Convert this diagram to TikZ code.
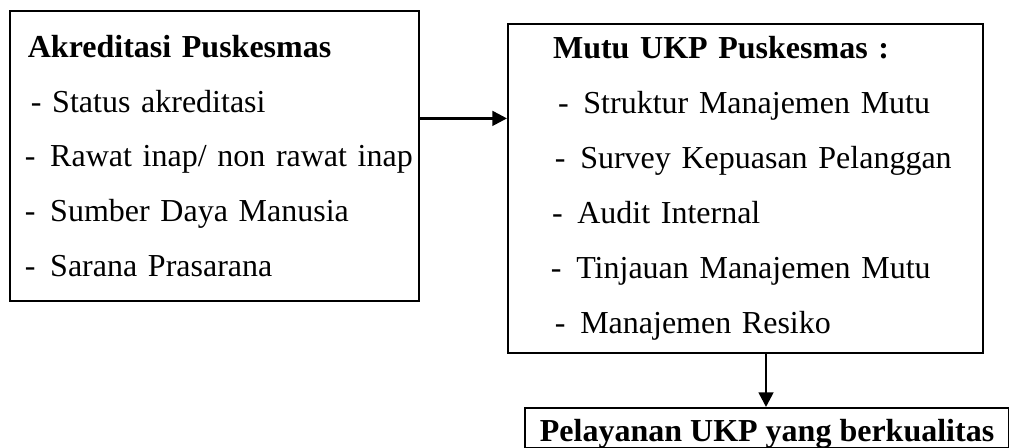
\documentclass[tikz,border=0pt]{standalone}
\usepackage{fontspec}
\setmainfont{Liberation Serif}
\usepackage{tikz}
\usetikzlibrary{arrows.meta,positioning,calc}
\newcommand{\butir}[2][0pt]{\hspace*{#1}\mbox{\makebox[9.5pt][l]{-}#2}}

\begin{document}
\begin{tikzpicture}[x=0.375pt,y=-0.375pt,>={Triangle[length=5.5pt,width=5.5pt]},
  box/.style={draw,line width=0.75pt,align=left,anchor=north west,inner ysep=0pt,
    font=\fontsize{12}{20.6}\selectfont},
  arrow/.style={->,line width=1pt}]
  \useasboundingbox (0,0) rectangle (1009,448);
  \node[box,inner xsep=5.6pt,text width=142.2pt,minimum height=108.75pt] (akr) at (9,10)
    {\hspace*{1.1pt}\textbf{Akreditasi Puskesmas}\\
     \hspace*{2.25pt}\mbox{- Status akreditasi}\\
     \butir{Rawat inap/ non rawat inap}\\
     \butir{Sumber Daya Manusia}\\
     \butir{Sarana Prasarana}};
  \node[box,inner xsep=5pt,text width=168.1pt,minimum height=123.4pt] (mutu) at (507,23)
    {\hspace*{11.9pt}\textbf{Mutu UKP Puskesmas :}\\
     \butir[13.8pt]{Struktur Manajemen Mutu}\\
     \butir[12.6pt]{Survey Kepuasan Pelanggan}\\
     \butir[11.5pt]{Audit Internal}\\
     \butir[11.1pt]{Tinjauan Manajemen Mutu}\\
     \butir[12.6pt]{Manajemen Resiko}};
  \node[box,inner xsep=5.6pt,text height=12.4pt,text depth=2.6pt] (ukp) at (524,407)
    {\textbf{Pelayanan UKP yang berkualitas}};
  \draw[arrow] ([yshift=14.1pt]akr.east) -- ([yshift=14.1pt]akr.east -| mutu.west);
  \draw[arrow] ([xshift=7.7pt]mutu.south) -- ([xshift=7.7pt]mutu.south |- ukp.north);
\end{tikzpicture}
\end{document}
